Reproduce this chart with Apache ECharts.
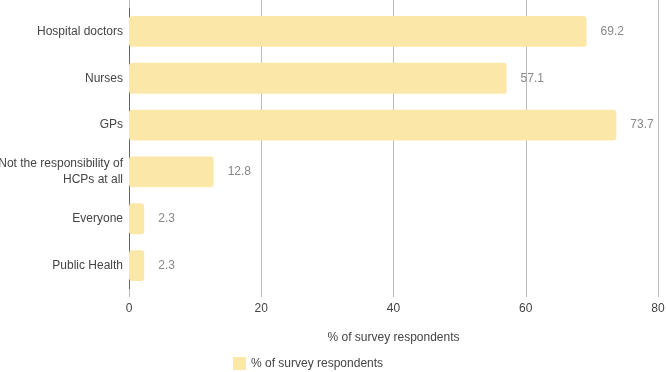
<!DOCTYPE html>
<html>
<head>
<meta charset="utf-8">
<script src="https://cdn.jsdelivr.net/npm/echarts@6/dist/echarts.min.js"></script>
<style>
html,body{margin:0;padding:0;background:#fff;}
#chart{width:666px;height:372px;}
</style>
</head>
<body>
<div id="chart"></div>
<script>
var categories = ['Hospital doctors', 'Nurses', 'GPs', 'Not the responsibility of\nHCPs at all', 'Everyone', 'Public Health'];
var values = [69.2, 57.1, 73.7, 12.8, 2.3, 2.3];
var seriesName = '% of survey respondents';
var xTicks = [0, 20, 40, 60, 80];

var myChart = echarts.init(document.getElementById('chart'));
var option = {
    textStyle: {fontFamily: 'Liberation Sans, Arial, sans-serif'},
    animation: false,
    grid: {
        left: 129,
        right: 8,
        top: 8,
        bottom: 83,
        containLabel: false,
        outerBoundsMode: 'none'
    },
    legend: {
        top: 352,
        left: 228,
        itemWidth: 13,
        itemHeight: 13,
        itemGap: 8,
        padding: 5,
        icon: 'rect',
        textStyle: {color: '#444', fontSize: 12},
        data: [seriesName]
    },
    xAxis: [{
        type: 'value',
        min: xTicks[0],
        max: xTicks[xTicks.length - 1],
        interval: 20,
        name: seriesName,
        nameLocation: 'middle',
        nameGap: 43,
        nameTextStyle: {color: '#444', fontSize: 12},
        axisLine: {show: false},
        axisTick: {show: true, length: 8, lineStyle: {color: '#bbb'}},
        axisLabel: {color: '#444', fontSize: 12, margin: 14},
        splitLine: {lineStyle: {color: '#bbb', width: 1}}
    }, {
        type: 'value',
        position: 'top',
        min: xTicks[0],
        max: xTicks[xTicks.length - 1],
        interval: 20,
        axisLine: {show: false},
        axisTick: {show: true, length: 8, lineStyle: {color: '#bbb'}},
        axisLabel: {show: false},
        splitLine: {show: false}
    }],
    yAxis: {
        type: 'category',
        inverse: true,
        data: categories,
        axisLine: {show: true, lineStyle: {color: '#666', width: 1}},
        axisTick: {show: false},
        axisLabel: {color: '#444', fontSize: 12, margin: 6, lineHeight: 16}
    },
    series: [{
        name: seriesName,
        type: 'bar',
        data: values,
        barCategoryGap: '34%',
        itemStyle: {color: '#fbe7a8', borderRadius: 3},
        label: {
            show: true,
            position: 'right',
            distance: 14,
            color: '#888',
            fontSize: 12
        }
    }]
};
myChart.setOption(option);
</script>
</body>
</html>
